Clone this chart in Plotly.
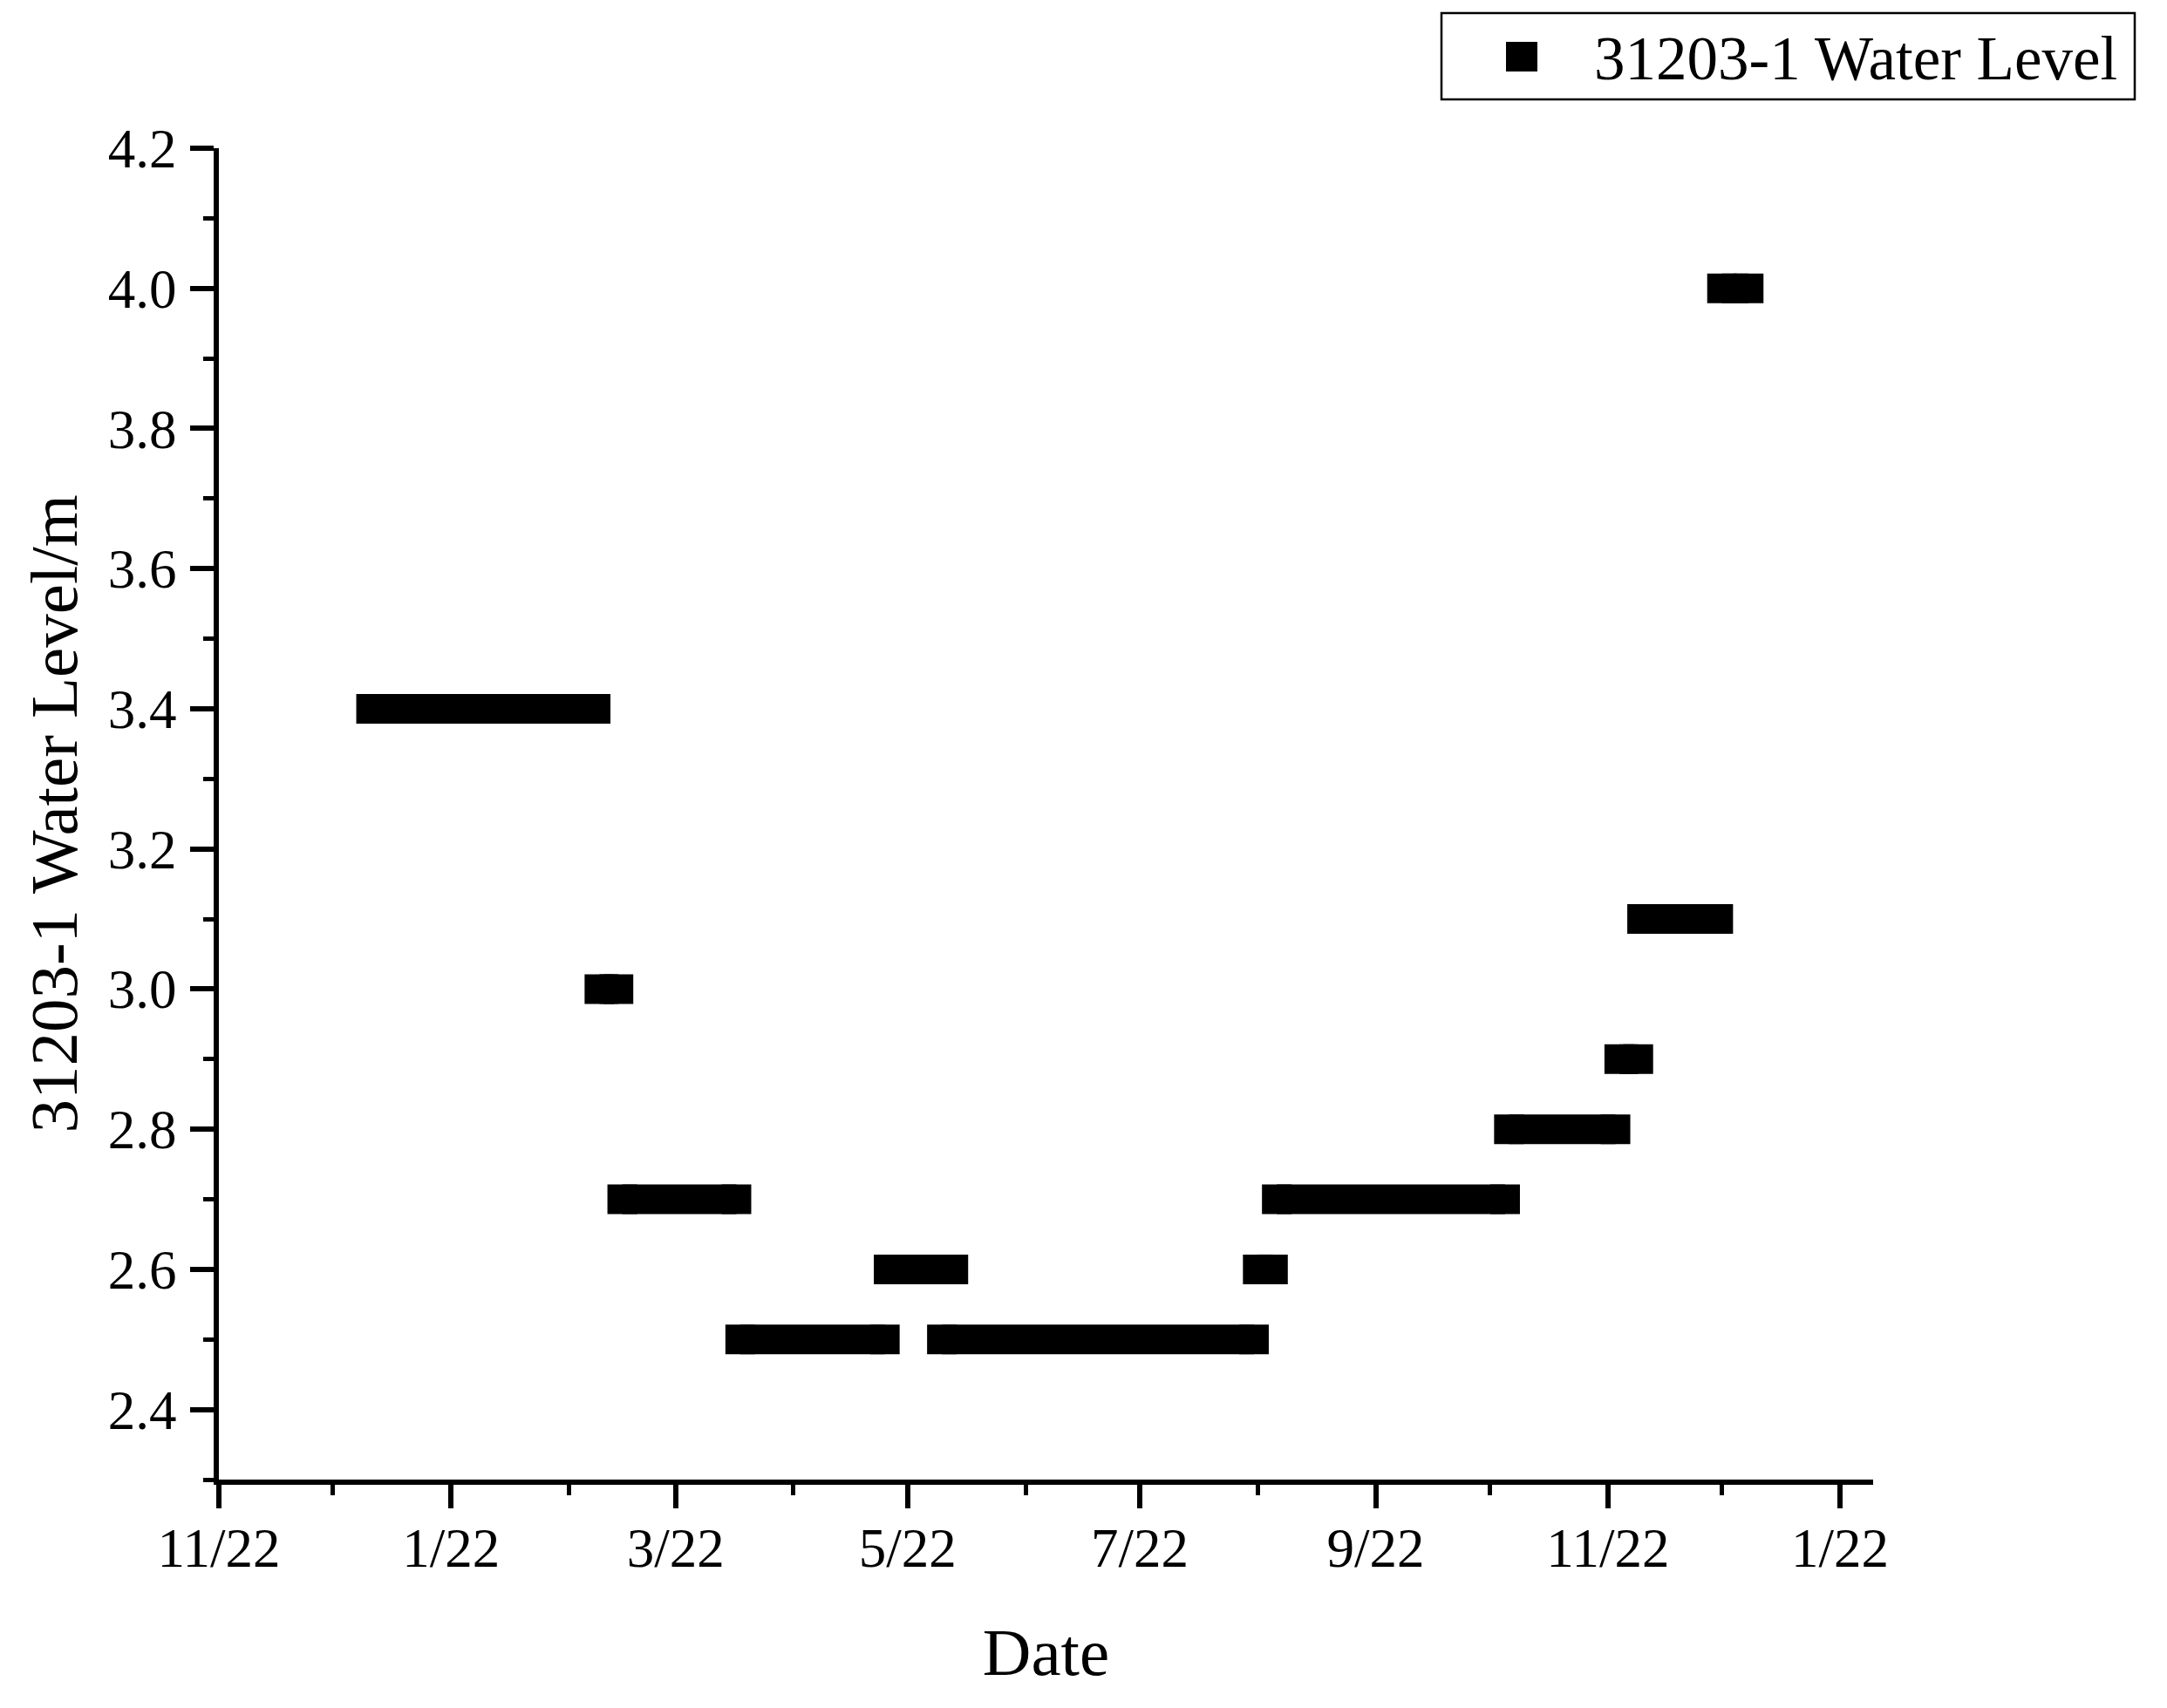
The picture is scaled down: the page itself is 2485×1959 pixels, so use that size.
import plotly.graph_objects as go

# ---- data ----
run_first = ["2022-01-01", "2022-03-02", "2022-03-08", "2022-04-08", "2022-05-17", "2022-05-31",
             "2022-08-22", "2022-08-27", "2022-10-27", "2022-11-25", "2022-12-01", "2022-12-22"]
run_last = ["2022-03-01", "2022-03-07", "2022-04-07", "2022-05-16", "2022-06-03", "2022-08-21",
            "2022-08-26", "2022-10-26", "2022-11-24", "2022-11-30", "2022-12-21", "2022-12-29"]
run_level = [3.4, 3.0, 2.7, 2.5, 2.6, 2.5, 2.6, 2.7, 2.8, 2.9, 3.1, 4.0]

x_tick_dates = ["2021-11-22", "2022-01-22", "2022-03-22", "2022-05-22",
                "2022-07-22", "2022-09-22", "2022-11-22", "2023-01-22"]
x_tick_labels = ["11/22", "1/22", "3/22", "5/22", "7/22", "9/22", "11/22", "1/22"]
x_minor_dates = ["2021-12-22", "2022-02-22", "2022-04-22", "2022-06-22",
                 "2022-08-22", "2022-10-22", "2022-12-22"]

series_name = "31203-1 Water Level"
x_title = "Date"
y_title = "31203-1 Water Level/m"

FONT = "Liberation Serif, Times New Roman, serif"
MSIZE = 34

xs, ys = [], []
for a, b, v in zip(run_first, run_last, run_level):
    xs += [a, b, None]
    ys += [v, v, None]

end_x, end_y = [], []
for a, b, v in zip(run_first, run_last, run_level):
    end_x += [a, b]
    end_y += [v, v]

fig = go.Figure()
fig.add_trace(go.Scatter(x=xs, y=ys, mode="lines", line=dict(color="black", width=MSIZE),
                         name=series_name, showlegend=False, connectgaps=False))
fig.add_trace(go.Scatter(x=end_x, y=end_y, mode="markers",
                         marker=dict(symbol="square", size=MSIZE, color="black", line=dict(width=0)),
                         name=series_name, showlegend=False))

OFF = 8  # page body margin
W, H = 2477, 1951
L, R, T, B = 243, 337, 162, 262

fig.update_layout(
    width=W, height=H,
    margin=dict(l=L, r=R, t=T, b=B, autoexpand=False),
    paper_bgcolor="white", plot_bgcolor="white",
    font=dict(family=FONT, color="black", size=63),
    showlegend=False,
)

fig.update_xaxes(
    type="date",
    range=["2021-11-22", "2023-01-30 17:00"],
    tickmode="array", tickvals=x_tick_dates, ticktext=x_tick_labels,
    ticks="outside", ticklen=27, tickwidth=6, tickcolor="black",
    showline=True, linewidth=6, linecolor="black", mirror=False,
    showgrid=False, zeroline=False,
    tickfont=dict(family=FONT, size=63, color="black"),
    ticklabelstandoff=-9,
    title=dict(text=x_title, font=dict(family=FONT, size=77, color="black"), standoff=60),
    minor=dict(tickmode="array", tickvals=x_minor_dates, ticks="outside",
               ticklen=12, tickwidth=5, tickcolor="black", showgrid=False),
    automargin=False,
)
fig.update_yaxes(
    range=[2.3, 4.2],
    tickmode="linear", tick0=2.4, dtick=0.2, tickformat=".1f",
    ticks="outside", ticklen=27, tickwidth=6, tickcolor="black",
    showline=True, linewidth=6, linecolor="black", mirror=False,
    showgrid=False, zeroline=False,
    tickfont=dict(family=FONT, size=63, color="black"),
    ticklabelstandoff=3,
    title=dict(text=y_title, font=dict(family=FONT, size=77, color="black"), standoff=12),
    minor=dict(tickmode="linear", tick0=2.3, dtick=0.1, ticks="outside",
               ticklen=12, tickwidth=5, tickcolor="black", showgrid=False),
    automargin=False,
)

# ---- manual legend (box, square symbol, label) ----
pw = W - L - R
ph = H - T - B
def px_x(p):
    return (p - OFF - L) / pw
def px_y(p):
    return (H - B - (p - OFF)) / ph

fig.add_shape(type="rect", xref="paper", yref="paper",
              x0=px_x(1653), x1=px_x(2448), y0=px_y(114), y1=px_y(15),
              line=dict(color="black", width=2.5), fillcolor="white", layer="above")
fig.add_shape(type="rect", xref="paper", yref="paper",
              x0=px_x(1727), x1=px_x(1763), y0=px_y(82), y1=px_y(48),
              line=dict(width=0), fillcolor="black", layer="above")
fig.add_annotation(xref="paper", yref="paper", x=px_x(1826), y=px_y(67),
                   xanchor="left", yanchor="middle", showarrow=False,
                   text=series_name, font=dict(family=FONT, size=71, color="black"))

fig.write_html("out.html")
